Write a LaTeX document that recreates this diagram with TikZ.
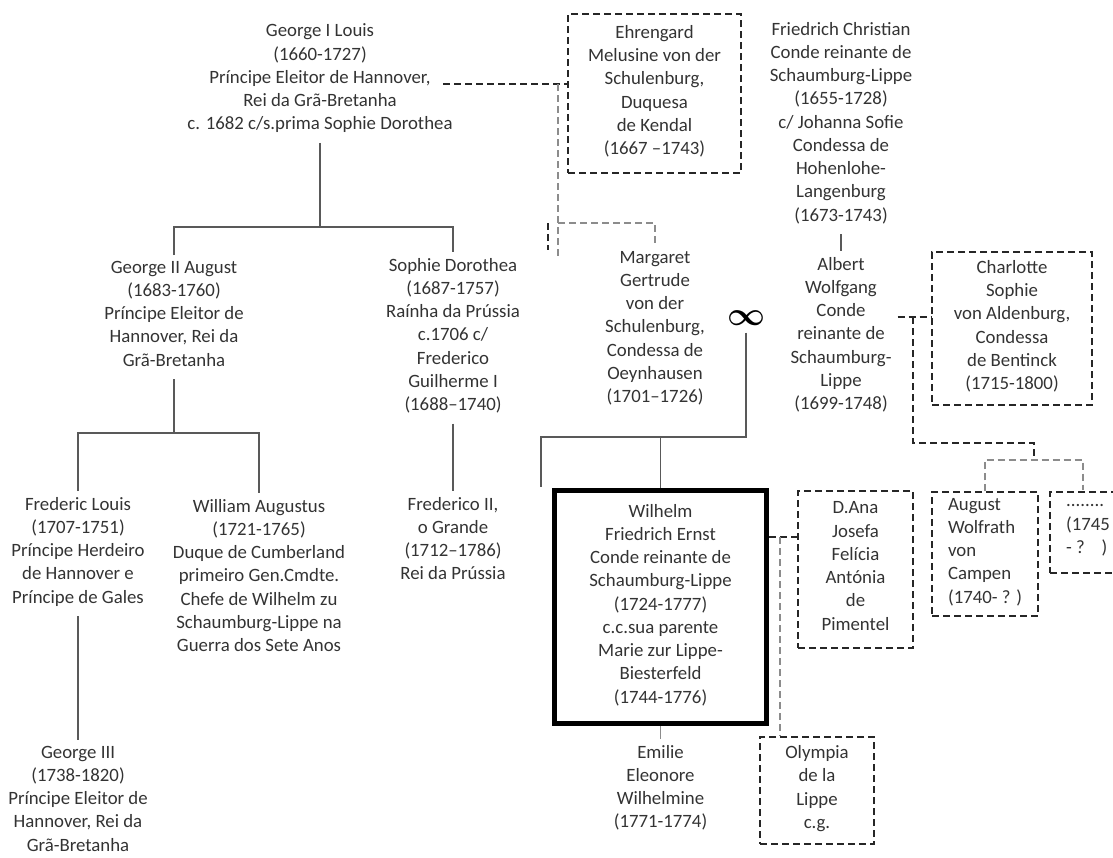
\documentclass[tikz,border=0pt]{standalone}
\usepackage{fontspec}
\setmainfont{Carlito}
\usepackage{graphicx}
\newcommand{\letra}{\fontsize{18.8}{23.25}\selectfont}

\begin{document}
\begin{tikzpicture}[x=1pt,y=-1pt]
\tikzset{pessoa/.style={align=center, anchor=north, inner sep=0pt, outer sep=6pt, text=black!80, font=\letra, execute at begin node=\strut, execute at end node=\strut}}
\tikzset{caixa/.style={draw=black!85, line width=1.4pt, dash pattern=on 7pt off 4pt, align=center, inner sep=0pt, text=black!80, font=\letra, execute at begin node=\strut, execute at end node=\strut}}
\tikzset{caixaesq/.style={caixa, align=left}}
\tikzset{linha/.style={draw=black!65, line width=1.3pt}}
\tikzset{laco/.style={draw=black!85, line width=1.4pt, dash pattern=on 7pt off 4pt}}
\tikzset{lacoclaro/.style={laco, draw=black!45}}
\useasboundingbox (0,0) rectangle (1113,857);
\clip (0,0) rectangle (1113,857);
\node[pessoa] (G1) at (320,18) {George I Louis\\(1660-1727)\\Príncipe Eleitor de Hannover,\\Rei da Grã-Bretanha\\c. 1682 c/s.prima Sophie Dorothea};
\node[caixa, minimum width=173pt, minimum height=159pt] (EM) at (654.5,93.5) {Ehrengard\\Melusine von der\\Schulenburg,\\Duquesa\\de Kendal\\(1667 –1743)};
\node[pessoa] (FC) at (841,16) {Friedrich Christian\\Conde reinante de\\Schaumburg-Lippe\\(1655-1728)\\c/ Johanna Sofie\\Condessa de\\Hohenlohe-\\Langenburg\\(1673-1743)};
\node[pessoa] (G2) at (174,255) {George II August\\(1683-1760)\\Príncipe Eleitor de\\Hannover, Rei da\\Grã-Bretanha};
\node[pessoa] (SD) at (453,252) {Sophie Dorothea\\(1687-1757)\\Raínha da Prússia\\c.1706 c/\\Frederico\\Guilherme I\\(1688–1740)};
\node[pessoa] (MG) at (655,245) {Margaret\\Gertrude\\von der\\Schulenburg,\\Condessa de\\Oeynhausen\\(1701–1726)};
\node[inner sep=0pt, inner ysep=7pt] (INF) at (746,318) {\scalebox{3.3}{\boldmath$\infty$}};
\node[pessoa] (AW) at (841,251) {Albert\\Wolfgang\\Conde\\reinante de\\Schaumburg-\\Lippe\\(1699-1748)};
\node[caixa, minimum width=160pt, minimum height=153pt] (CS) at (1012,328.5) {Charlotte\\Sophie\\von Aldenburg,\\Condessa\\de Bentinck\\(1715-1800)};
\node[pessoa] (FL) at (78,491) {Frederic Louis\\(1707-1751)\\Príncipe Herdeiro\\de Hannover e\\Príncipe de Gales};
\node[pessoa] (WA) at (259,493) {William Augustus\\(1721-1765)\\Duque de Cumberland\\primeiro Gen.Cmdte.\\Chefe de Wilhelm zu\\Schaumburg-Lippe na\\Guerra dos Sete Anos};
\node[pessoa] (F2) at (453,491) {Frederico II,\\o Grande\\(1712–1786)\\Rei da Prússia};
\node[caixa, draw=black, solid, line width=5pt, minimum width=212pt, minimum height=233pt] (WF) at (660.5,607) {Wilhelm\\Friedrich Ernst\\Conde reinante de\\Schaumburg-Lippe\\(1724-1777)\\c.c.sua parente\\Marie zur Lippe-\\Biesterfeld\\(1744-1776)};
\node[caixa, minimum width=115pt, minimum height=157pt] (DA) at (855.5,569.5) {D.Ana\\Josefa\\Felícia\\Antónia\\de\\Pimentel};
\node[caixaesq, minimum width=106pt, minimum height=124pt] (AU) at (985,554) {August\\Wolfrath\\von\\Campen\\(1740- ? )};
\node[caixaesq, minimum width=76pt, minimum height=81pt] (XX) at (1088,532.5) {........\\(1745\\- ?\hspace{0.9em})};
\node[caixa, minimum width=114pt, minimum height=107pt] (OL) at (817,790.5) {Olympia\\de la\\Lippe\\c.g.};
\node[pessoa] (G3) at (78,740) {George III\\(1738-1820)\\Príncipe Eleitor de\\Hannover, Rei da\\Grã-Bretanha};
\node[pessoa] (EW) at (660.5,739) {Emilie\\Eleonore\\Wilhelmine\\(1771-1774)};
\coordinate (g1a) at (443,84);
\coordinate (g1m) at (558,84);
\coordinate (g1b) at (558,257);
\coordinate (g1f) at (558,223);
\coordinate (g1c) at (548,223);
\coordinate (g1d) at (548,250);
\coordinate (g1bar) at (320,227);
\coordinate (g2bar) at (174,433);
\coordinate (wbar) at (660.5,437);
\coordinate (wtoco) at (541,487);
\coordinate (awm) at (913,317);
\coordinate (awbar) at (1034,443);
\coordinate (awf) at (1034,460);
\coordinate (xxtopo) at (1083,490);
\coordinate (wfm) at (780,537);
\draw[linha] (G1.south) -- (g1bar);
\draw[linha] (G2.north) |- (g1bar) -| (SD.north);
\draw[linha] (G2.south) -- (g2bar);
\draw[linha] (FL.north) |- (g2bar) -| (WA.north);
\draw[linha] (FL.south) -- (G3.north);
\draw[linha] (SD.south) -- (F2.north);
\draw[linha] (FC.south) -- (AW.north);
\draw[linha] (INF.south) |- (wtoco |- wbar) -- (wtoco);
\draw[linha] (wbar) -- (WF.north);
\draw[linha, draw=black!45] (WF.south) -- (EW.north);
\draw[laco] (g1a) -- (EM.west |- g1a);
\draw[lacoclaro] (g1m) -- (g1b);
\draw[lacoclaro] (g1f) -| (MG.north);
\draw[laco] (g1c) -- (g1d);
\draw[laco] (AW.east |- awm) -- (CS.west |- awm);
\draw[laco] (awm) |- (awbar) -- (awf);
\draw[lacoclaro] (AU.north) |- (awf) -| (xxtopo);
\draw[laco] (WF.east |- wfm) -- (DA.west |- wfm);
\draw[lacoclaro] (wfm) -- (OL.north -| wfm);
\end{tikzpicture}
\end{document}
